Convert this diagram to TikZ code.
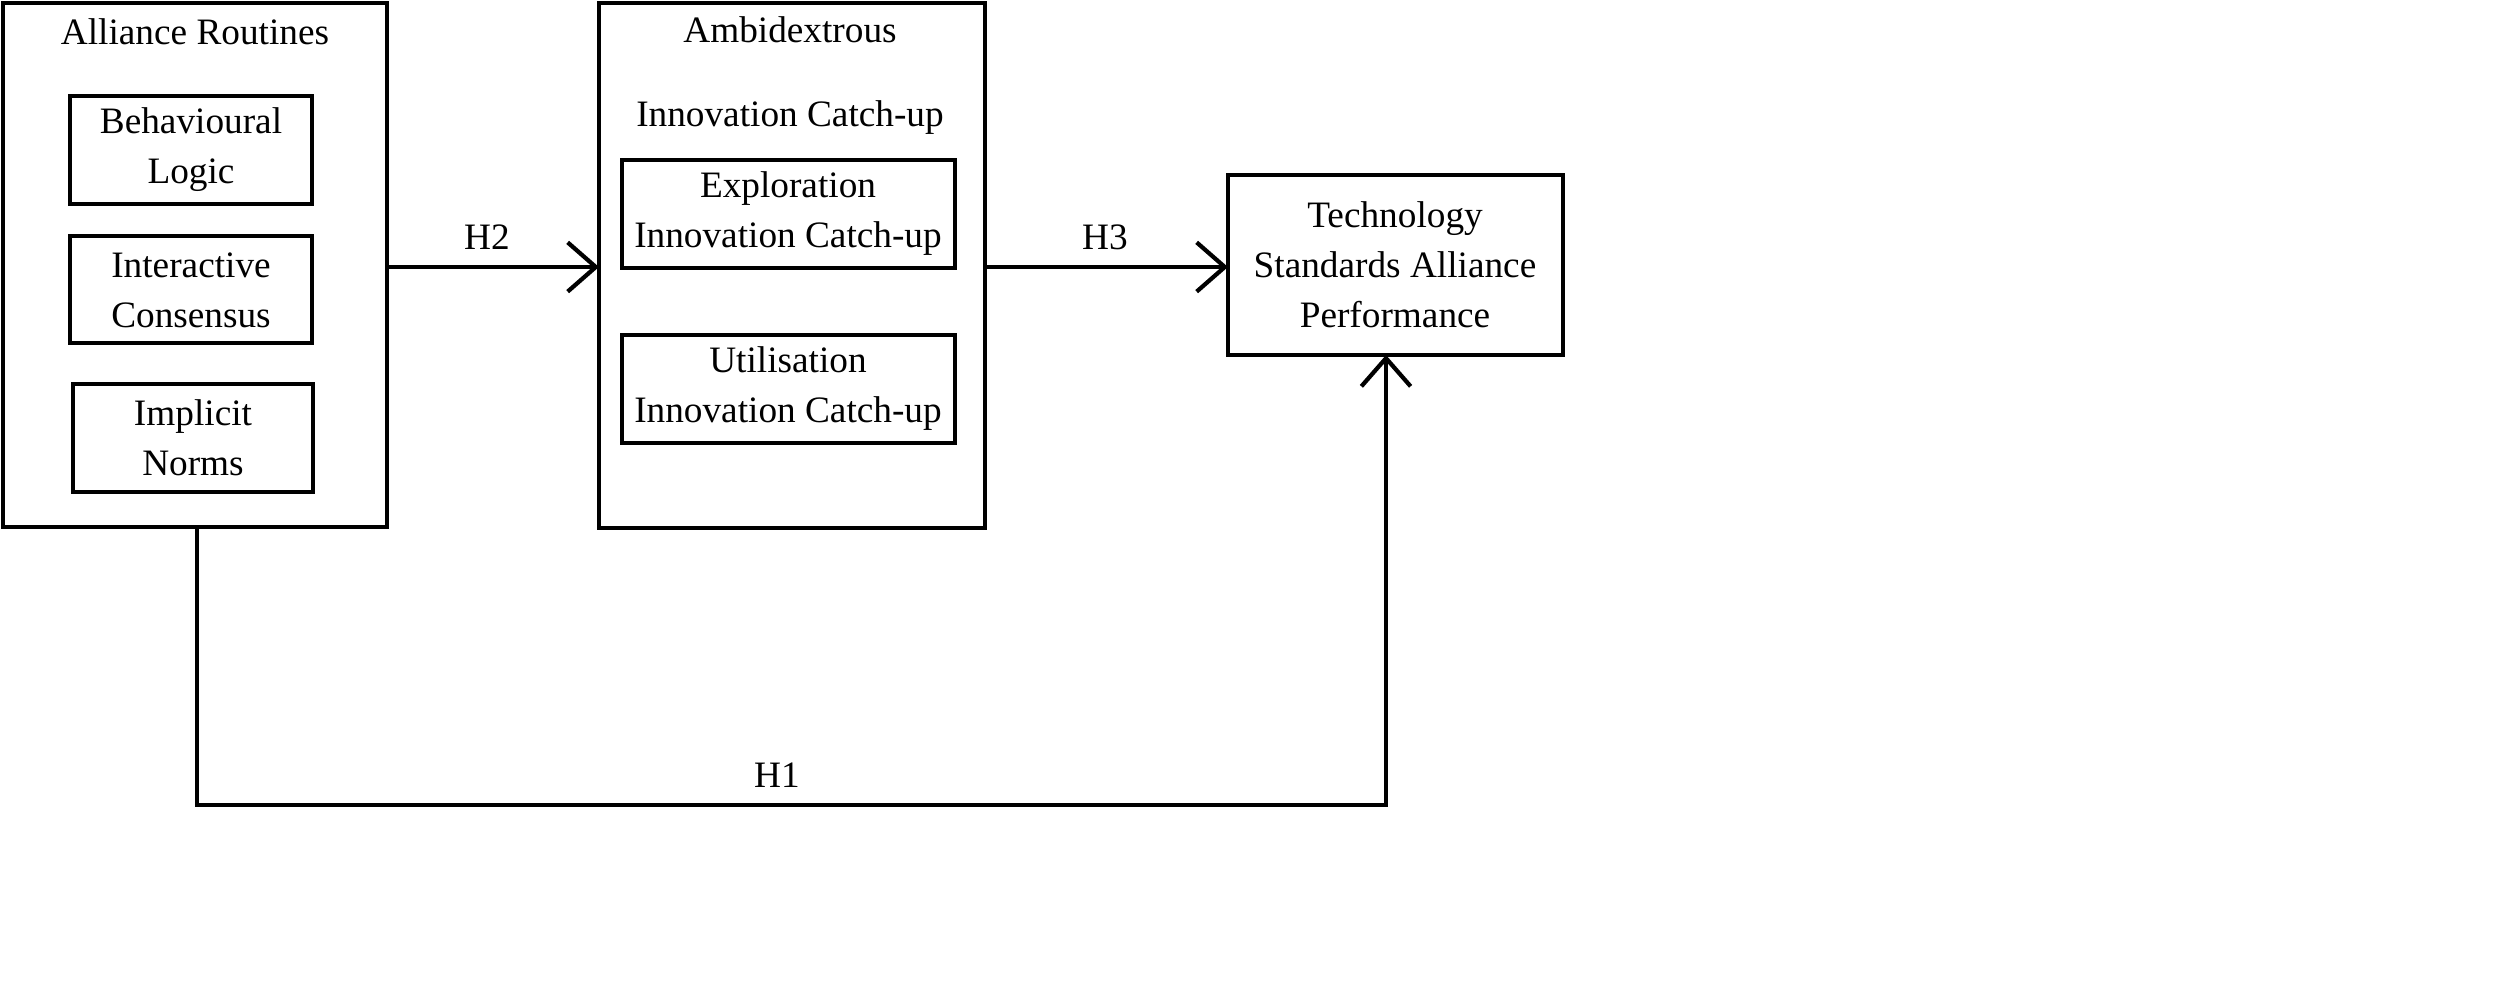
\documentclass[tikz,border=0pt]{standalone}
\usepackage{fontspec}
\setmainfont{Liberation Serif}
\usetikzlibrary{arrows.meta}
\begin{document}
\begin{tikzpicture}[x=0.01cm,y=-0.01cm,
  txt/.style={font=\fontsize{10.6pt}{14.2pt}\selectfont,align=center},
  bx/.style={line width=1.2pt},
  arr/.style={line width=1.2pt,-{Straight Barb[length=8pt,width=14pt,line width=1.2pt]}}]
\useasboundingbox (0,0) rectangle (2500,982);
\draw[bx] (3,3) rectangle (387,527);
\coordinate (Lb) at (197,527);
\coordinate (Lr) at (387,267);
\node[txt] (lt) at (195,32) {Alliance Routines};
\draw[bx] (70,96) rectangle (312,204);
\node[txt] (b1) at (191,150) {Behavioural\\Logic};
\draw[bx] (70,236) rectangle (312,343);
\node[txt] (b2) at (191,290) {Interactive\\Consensus};
\draw[bx] (73,384) rectangle (313,492);
\node[txt] (b3) at (193,438) {Implicit\\Norms};
\draw[bx] (599,3) rectangle (985,528);
\coordinate (Ml) at (599,267);
\coordinate (Mr) at (985,267);
\node[txt] (mt1) at (790,30) {Ambidextrous};
\node[txt] (mt2) at (790,118) {Innovation Catch-up};
\draw[bx] (622,160) rectangle (955,268);
\node[txt] (e) at (788,214) {Exploration\\Innovation Catch-up};
\draw[bx] (622,335) rectangle (955,443);
\node[txt] (u) at (788,389) {Utilisation\\Innovation Catch-up};
\draw[bx] (1228,175) rectangle (1563,355);
\coordinate (Rl) at (1228,267);
\coordinate (Rb) at (1386,355);
\node[txt] (r) at (1395,265) {Technology\\Standards Alliance\\Performance};
\draw[arr] (Lr) -- (Ml);
\node[txt] (h2) at (487,237) {H2};
\draw[arr] (Mr) -- (Rl);
\node[txt] (h3) at (1105,237) {H3};
\draw[arr] (Lb) -- (197,805) -- (1386,805) -- (Rb);
\node[txt] (h1) at (777,775) {H1};
\end{tikzpicture}
\end{document}
